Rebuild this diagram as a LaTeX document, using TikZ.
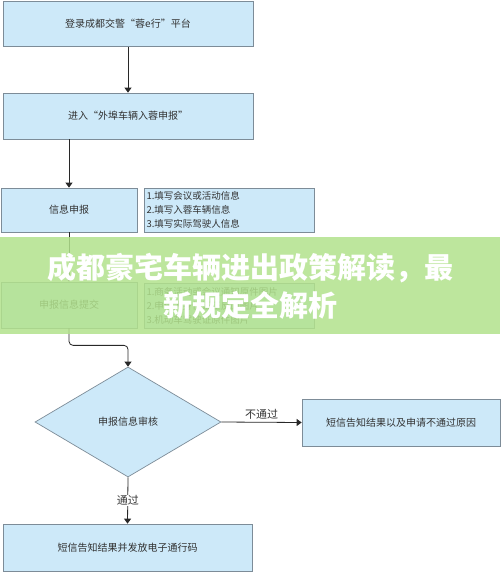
\documentclass[tikz,border=0pt]{standalone}
\usepackage{fontspec}
\setmainfont{Noto Sans CJK SC}
\usetikzlibrary{shapes.geometric,arrows.meta}
\definecolor{boxfill}{RGB}{205,233,249}
\definecolor{boxline}{RGB}{125,140,152}
\definecolor{bannergreen}{RGB}{178,226,140}
\definecolor{linecol}{RGB}{40,40,40}
\tikzset{
  flowbox/.style={draw=boxline, fill=boxfill, line width=0.7pt, inner sep=2pt, font=\fontsize{10}{12}\selectfont, text=black!80},
  notebox/.style={flowbox, align=left, font=\fontsize{9.5}{14}\selectfont},
  arr/.style={draw=linecol, line width=0.8pt, -{Triangle[length=5pt,width=7pt]}},
  lbl/.style={font=\fontsize{11}{13}\selectfont, text=black!80, inner sep=1pt}
}
\begin{document}
\begin{tikzpicture}[x=1pt,y=-1pt]
\useasboundingbox (0,0) rectangle (500,572);
\fill[white] (0,0) rectangle (500,572);
\node[flowbox, minimum width=250pt, minimum height=45pt] (b1) at (128,24) {登录成都交警“蓉e行”平台};
\node[flowbox, minimum width=250pt, minimum height=46pt] (b2) at (128,116) {进入“外埠车辆入蓉申报”};
\node[flowbox, minimum width=136pt, minimum height=44pt] (b3) at (69,210) {信息申报};
\node[notebox, minimum width=170pt, minimum height=44pt, text width=165pt] (b3n) at (229,210) {1.填写会议或活动信息\\2.填写入蓉车辆信息\\3.填写实际驾驶人信息};
\node[flowbox, minimum width=136pt, minimum height=46pt] (b4) at (69,305) {申报信息提交};
\node[notebox, minimum width=170pt, minimum height=45pt, text width=165pt] (b4n) at (229,305.5) {1.商务活动或会议通知原件图片\\2.申请人身份证正反面图片\\3.机动车驾驶证原件图片};
\node[diamond, draw=boxline, fill=boxfill, line width=0.7pt, inner sep=0pt, minimum width=186pt, minimum height=110pt, font=\fontsize{10}{12}\selectfont, text=black!80] (dia) at (128,422) {申报信息审核};
\node[flowbox, minimum width=198pt, minimum height=47pt] (r1) at (401,422.5) {短信告知结果以及申请不通过原因};
\node[flowbox, minimum width=249pt, minimum height=47pt] (r2) at (127.5,547.5) {短信告知结果并发放电子通行码};
\draw[arr] (b1) -- (b2);
\draw[arr] (b2.south -| b3.north) -- (b3.north);
\draw[arr] (b3) -- (b4);
\draw[arr, rounded corners=4pt] (b4.south) -- ++(0,17) -| (dia.north);
\draw[arr] (dia.east) -- node[lbl, above=1pt] (lno) {不通过} (r1.west);
\draw[arr] (dia.south) -- node[lbl, fill=white] (lyes) {通过} (r2.north);
\fill[bannergreen, opacity=0.85] (0,237) rectangle (500,334);
\node[text=white, align=center, font=\bfseries\fontsize{29}{38}\selectfont, inner sep=0pt] (title) at (250,286) {成都豪宅车辆进出政策解读，最\\新规定全解析};
\end{tikzpicture}
\end{document}
